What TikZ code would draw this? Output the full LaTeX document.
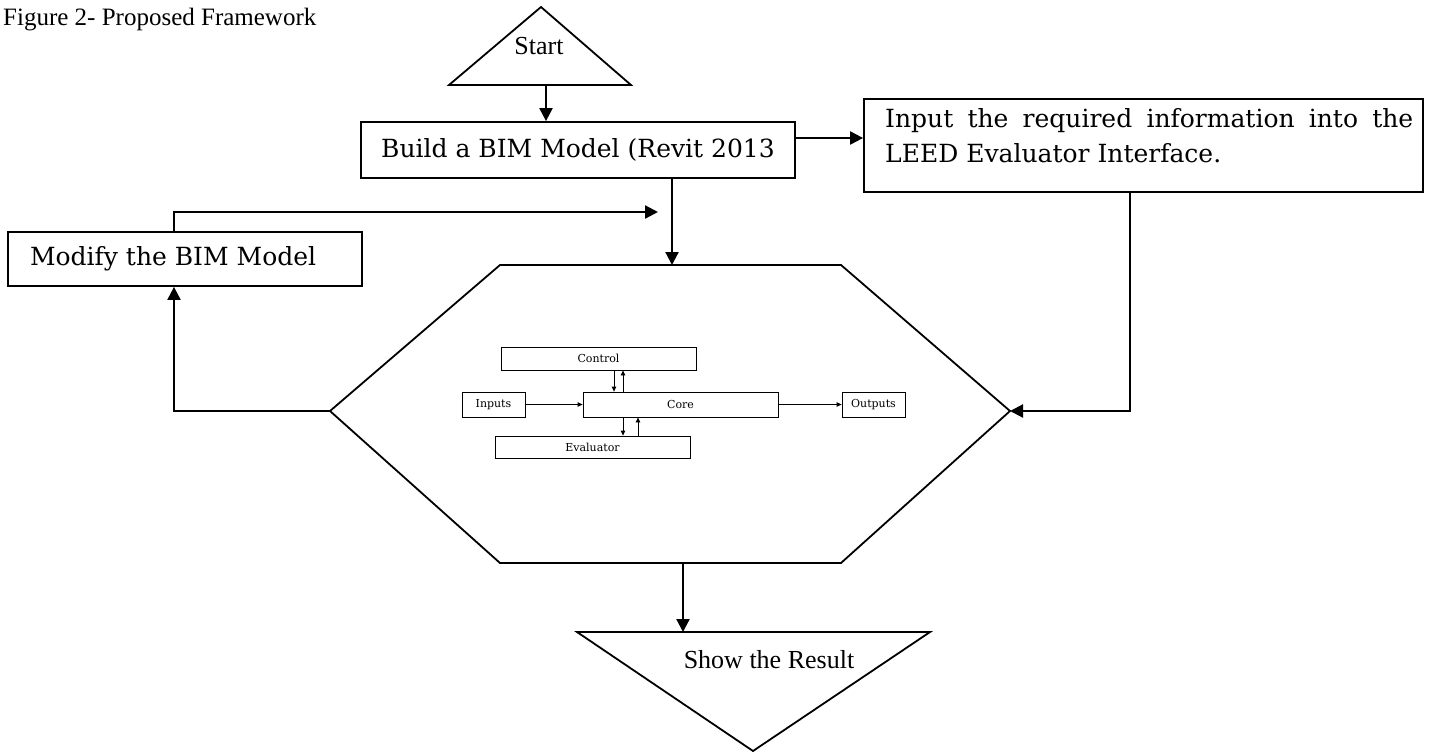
\documentclass[tikz,border=0pt]{standalone}
\usepackage{fontspec}
\setmainfont{Liberation Serif}
\newfontfamily\bt{DejaVu Serif}
\usetikzlibrary{arrows.meta}
\begin{document}
\begin{tikzpicture}[x=1pt,y=-1pt,
  outline/.style={draw, line width=1.8pt},
  bbox/.style={draw, line width=1.8pt, inner sep=0pt, font=\bt\fontsize{25}{34}\selectfont},
  conn/.style={line width=2.2pt, -{Triangle[length=13pt,width=13pt]}},
  ibox/.style={draw, line width=0.8pt, inner sep=0pt, font=\bt\fontsize{11}{13}\selectfont},
  iarr/.style={line width=0.8pt, -{Triangle[length=5pt,width=4.5pt]}},
]
\useasboundingbox (0,0) rectangle (1429,753);
\node[anchor=base west, inner sep=0pt, font=\fontsize{25}{29}\selectfont] (title) at (3,25) {Figure 2- Proposed Framework};

% Start triangle
\coordinate (sa) at (541,7);
\coordinate (sl) at (449,85);
\coordinate (sr) at (631,85);
\coordinate (sb) at (546,85);
\draw[outline] (sl) -- (sa) -- (sr) -- cycle;
\node[font=\fontsize{26}{30}\selectfont] (start) at (539,46) {Start};

% Build box
\node[bbox, minimum width=434pt, minimum height=56pt] (build) at (578,150) {Build a BIM Model (Revit 2013};
\draw[conn] (sb) -- (sb |- build.north);

% LEED box
\node[bbox, minimum width=559pt, minimum height=93pt] (leed) at (1143.5,145.5) {};
\node[anchor=north west, inner sep=0pt, align=left, font=\bt\fontsize{25}{35}\selectfont] (leedtext) at (885,108)
  {\makebox[528pt][s]{Input the required information into the}\\LEED Evaluator Interface.};
\draw[conn] ([yshift=12pt]build.east) -- ([yshift=12pt]build.east -| leed.west);

% Modify box
\node[bbox, minimum width=354pt, minimum height=54pt] (modify) at (185,259)
  {\makebox[354pt][l]{\hspace{22pt}Modify the BIM Model}};

% Hexagon
\coordinate (h1) at (500,265);
\coordinate (h2) at (841,265);
\coordinate (h3) at (1010,411);
\coordinate (h4) at (841,563);
\coordinate (h5) at (500,563);
\coordinate (h6) at (330,411);
\draw[outline] (h1) -- (h2) -- (h3) -- (h4) -- (h5) -- (h6) -- cycle;
\coordinate (ht) at (672,265);
\coordinate (hb) at (683,563);
\coordinate (tip) at (658,212);

\draw[conn] (ht |- build.south) -- (ht);
\draw[conn] ([xshift=-11pt]modify.north) |- (tip);
\draw[conn] (h6) -| ([xshift=-11pt]modify.south);
\draw[conn] ([xshift=-13.5pt]leed.south) |- (h3);

% Inner diagram
\node[ibox, minimum width=195pt, minimum height=23pt] (control) at (598.5,358.5) {Control};
\node[ibox, minimum width=63pt, minimum height=25pt] (inputs) at (493.5,404.5) {Inputs};
\node[ibox, minimum width=195pt, minimum height=25pt] (core) at (680.5,404.5) {Core};
\node[ibox, minimum width=63pt, minimum height=25pt] (outputs) at (873.5,404.5) {Outputs};
\node[ibox, minimum width=195pt, minimum height=22pt] (evaluator) at (592.5,447) {Evaluator};
\draw[iarr] ([xshift=15.5pt]control.south) -- ([xshift=15.5pt]control.south |- core.north);
\draw[iarr] ([xshift=24.5pt]control.south |- core.north) -- ([xshift=24.5pt]control.south);
\draw[iarr] ([xshift=30.5pt]evaluator.north |- core.south) -- ([xshift=30.5pt]evaluator.north);
\draw[iarr] ([xshift=45.5pt]evaluator.north) -- ([xshift=45.5pt]evaluator.north |- core.south);
\draw[iarr] (inputs.east) -- (core.west);
\draw[iarr] (core.east) -- (outputs.west);

% Show the Result triangle
\coordinate (rl) at (577,632);
\coordinate (rr) at (930,632);
\coordinate (ra) at (753,751);
\coordinate (rt) at (683,632);
\draw[outline] (rl) -- (rr) -- (ra) -- cycle;
\node[font=\fontsize{26}{30}\selectfont] (show) at (769,660) {Show the Result};
\draw[conn] (hb) -- (rt);
\end{tikzpicture}
\end{document}
